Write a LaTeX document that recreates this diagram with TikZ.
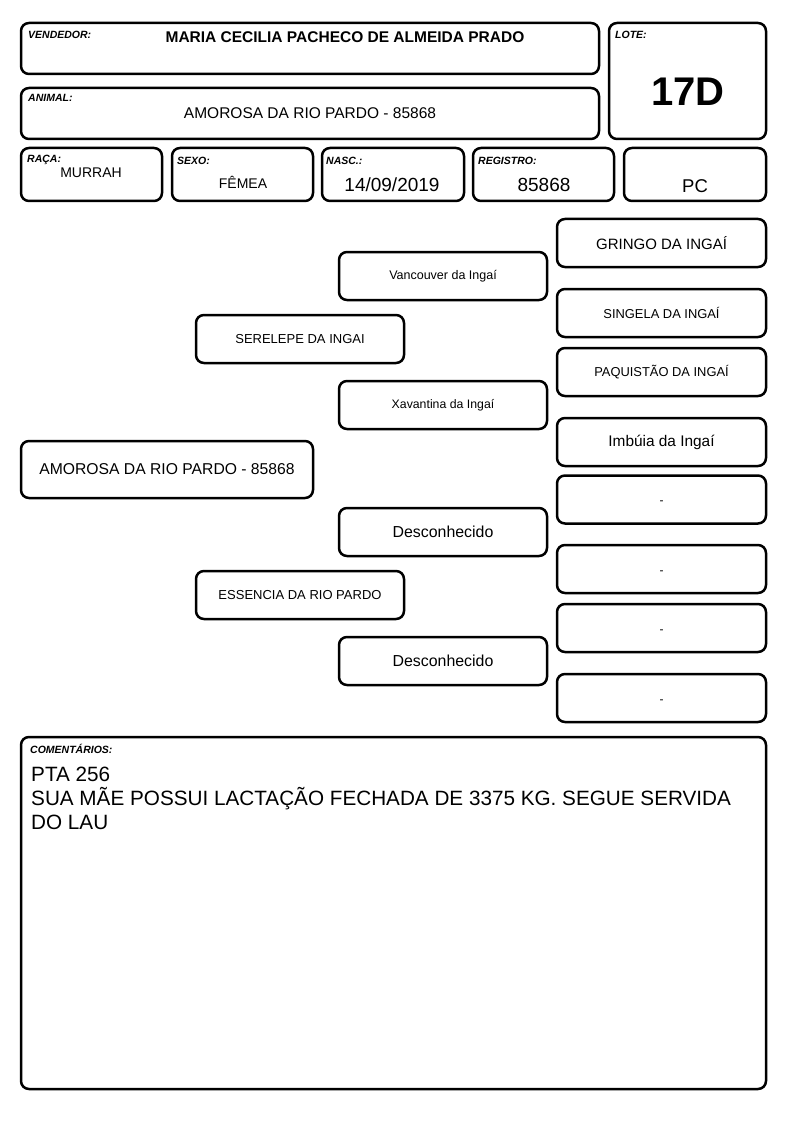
\documentclass[tikz,border=0pt]{standalone}
\usepackage{fontspec}
\setmainfont{Liberation Sans}
\newcommand{\fsz}[1]{\fontsize{#1}{#1}\selectfont}
\tikzset{
  card/.style={draw, line width=2.5pt, rounded corners=8pt, inner sep=0pt},
  tag/.style={anchor=base west, inner sep=0pt, font=\fsz{10.5}\bfseries\itshape},
  val/.style={anchor=base, inner sep=0pt},
  sire/.style={card, minimum width=208, minimum height=48},
  grand/.style={card, minimum width=209, minimum height=48},
  blank/.style={grand, font=\fsz{12}, text height=10pt, text depth=0pt},
}
\begin{document}
\begin{tikzpicture}[x=1pt,y=-1pt]
  \useasboundingbox (0,0) rectangle (794,1123);
  % header
  \node [card, minimum width=578, minimum height=51] (vendedor) at (310,48.5) {};
  \node [tag] (vendedortag) at (28,39) {VENDEDOR:};
  \node [val, font=\fsz{15.5}\bfseries] (vendedorval) at (345,43) {MARIA CECILIA PACHECO DE ALMEIDA PRADO};
  \node [card, minimum width=157, minimum height=116] (lote) at (687.5,81) {};
  \node [tag] (lotetag) at (615,39) {LOTE:};
  \node [val, font=\fsz{40}\bfseries] (loteval) at (688,106) {17D};
  \node [card, minimum width=578, minimum height=51] (animal) at (310,113.5) {};
  \node [tag] (animaltag) at (28,102) {ANIMAL:};
  \node [val, font=\fsz{15.5}] (animalval) at (310,119) {AMOROSA DA RIO PARDO - 85868};
  \node [card, minimum width=141, minimum height=53] (raca) at (91.5,174.5) {};
  \node [tag] (racatag) at (27,163) {RAÇA:};
  \node [val, font=\fsz{14}] (racaval) at (91,178) {MURRAH};
  \node [card, minimum width=141, minimum height=53] (sexo) at (242.5,174.5) {};
  \node [tag] (sexotag) at (177,165) {SEXO:};
  \node [val, font=\fsz{14}] (sexoval) at (243,189) {FÊMEA};
  \node [card, minimum width=142, minimum height=53] (nasc) at (393,174.5) {};
  \node [tag] (nasctag) at (326,165) {NASC.:};
  \node [val, font=\fsz{19}] (nascval) at (392,192) {14/09/2019};
  \node [card, minimum width=141, minimum height=53] (registro) at (543.5,174.5) {};
  \node [tag] (registrotag) at (478,165) {REGISTRO:};
  \node [val, font=\fsz{19}] (registroval) at (544,192) {85868};
  \node [card, minimum width=142, minimum height=53] (pc) at (695,174.5) {};
  \node [val, font=\fsz{18.5}] (pcval) at (695,193) {PC};
  % pedigree
  \node [card, minimum width=292, minimum height=57, font=\fsz{15.7}] (amorosa) at (167,469.5) {AMOROSA DA RIO PARDO - 85868};
  \node [sire, font=\fsz{13}] (serelepe) at (300,339) {SERELEPE DA INGAI};
  \node [sire, font=\fsz{13}] (essencia) at (300,595) {ESSENCIA DA RIO PARDO};
  \node [sire, font=\fsz{12.5}] (vancouver) at (443,276) {Vancouver da Ingaí};
  \node [sire, font=\fsz{12.3}] (xavantina) at (443,405) {Xavantina da Ingaí};
  \node [sire, font=\fsz{15.9}] (desconhecidoa) at (443,532) {Desconhecido};
  \node [sire, font=\fsz{15.9}] (desconhecidob) at (443,661) {Desconhecido};
  \node [grand, font=\fsz{15}] (gringo) at (661.5,243) {GRINGO DA INGAÍ};
  \node [grand, font=\fsz{12.9}] (singela) at (661.5,313) {SINGELA DA INGAÍ};
  \node [grand, font=\fsz{12.9}] (paquistao) at (661.5,372) {PAQUISTÃO DA INGAÍ};
  \node [grand, font=\fsz{15.4}] (imbuia) at (661.5,442) {Imbúia da Ingaí};
  \node [blank] (vazioa) at (661.5,499.5) {-};
  \node [blank] (vaziob) at (661.5,569) {-};
  \node [blank] (vazioc) at (661.5,628) {-};
  \node [blank] (vaziod) at (661.5,698) {-};
  % comments
  \node [card, minimum width=745, minimum height=352] (comentarios) at (393.5,913) {};
  \node [tag] (comentariostag) at (30,753) {COMENTÁRIOS:};
  \node [anchor=north west, inner sep=0pt, align=left, font=\fontsize{20.7}{24}\selectfont]
    (comentariosval) at (31,766.5) {PTA 256\\SUA MÃE POSSUI LACTAÇÃO FECHADA DE 3375 KG. SEGUE SERVIDA\\DO LAU};
\end{tikzpicture}
\end{document}
